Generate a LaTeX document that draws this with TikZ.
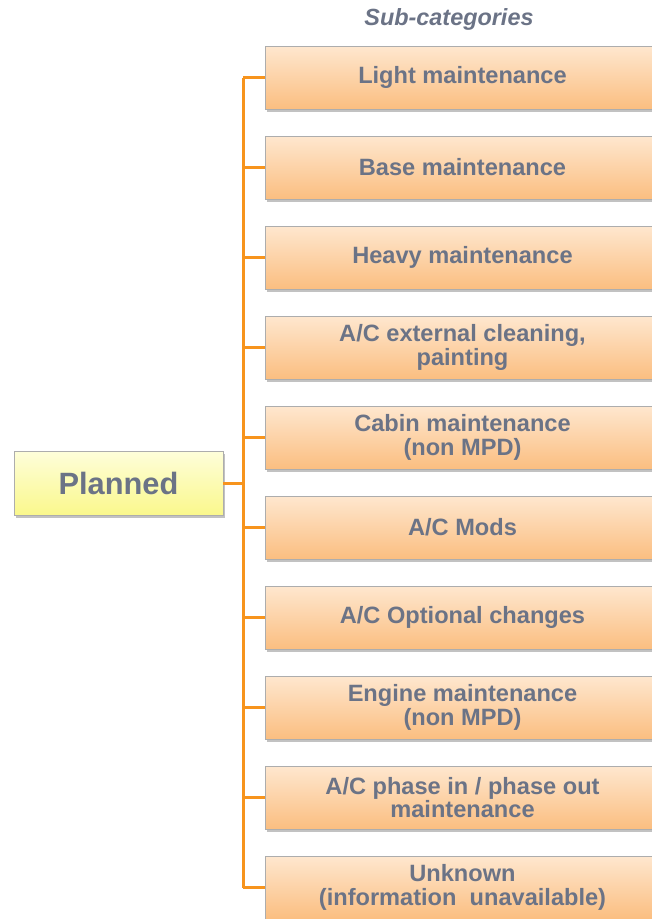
\documentclass[tikz,border=0pt]{standalone}
\usepackage{fontspec}
\setmainfont{Liberation Sans}
\usetikzlibrary{positioning,shadows,calc}

\definecolor{labelgray}{RGB}{107,115,134}
\definecolor{linkorange}{RGB}{247,148,29}
\definecolor{peachtop}{RGB}{254,231,207}
\definecolor{peachbot}{RGB}{251,190,128}
\definecolor{lemontop}{RGB}{254,254,218}
\definecolor{lemonbot}{RGB}{250,248,140}

\begin{document}
\begin{tikzpicture}
  [
  x=1pt, y=-1pt,
  font=\bfseries, text=labelgray,
  subbox/.style={rectangle, minimum height=63pt, minimum width=395pt, draw=black!32, line width=0.8pt,
    top color=peachtop, bottom color=peachbot, align=center, inner sep=0pt,
    font=\fontsize{23.6}{23.5}\selectfont\bfseries,
    drop shadow={shadow xshift=2pt, shadow yshift=-3pt, fill=black!40, opacity=0.6}},
  mainbox/.style={rectangle, minimum height=64pt, minimum width=209pt, draw=black!32, line width=0.8pt,
    top color=lemontop, bottom color=lemonbot, inner sep=0pt,
    font=\fontsize{30.8}{32}\selectfont\bfseries,
    drop shadow={shadow xshift=2pt, shadow yshift=-3pt, fill=black!40, opacity=0.6}},
  link/.style={draw=linkorange, line width=3pt}
  ]

\clip (0,0) rectangle (652,919);
\useasboundingbox (0,0) rectangle (652,919);

% sub-categories
\foreach \t [count=\s] in {Light maintenance, Base maintenance, Heavy maintenance,
  {A/C external cleaning,\\painting}, {Cabin maintenance\\(non MPD)}, A/C Mods,
  A/C Optional changes, {Engine maintenance\\(non MPD)},
  {A/C phase in / phase out\\maintenance}, {Unknown\\(information~~unavailable)}} {
  \node[subbox] (c\s) at (462.5,77.5+90*\s-90) {\t};
}

\node[mainbox] (plan) at (118.5,483) {Planned};
\node[font=\fontsize{23.4}{24}\selectfont\bfseries\itshape] (title) at (449,19) {Sub-categories};

\coordinate (bus) at (243,0);

\begin{scope}[on background layer/.try]
\draw[link] (c1.west -| bus) -- (c10.west -| bus);
\draw[link] (plan.east) -- (plan.east -| bus);
\foreach \s in {1,...,10} {
  \draw[link] (c\s.west -| bus) -- (c\s.west);
}
\end{scope}
\end{tikzpicture}
\end{document}
